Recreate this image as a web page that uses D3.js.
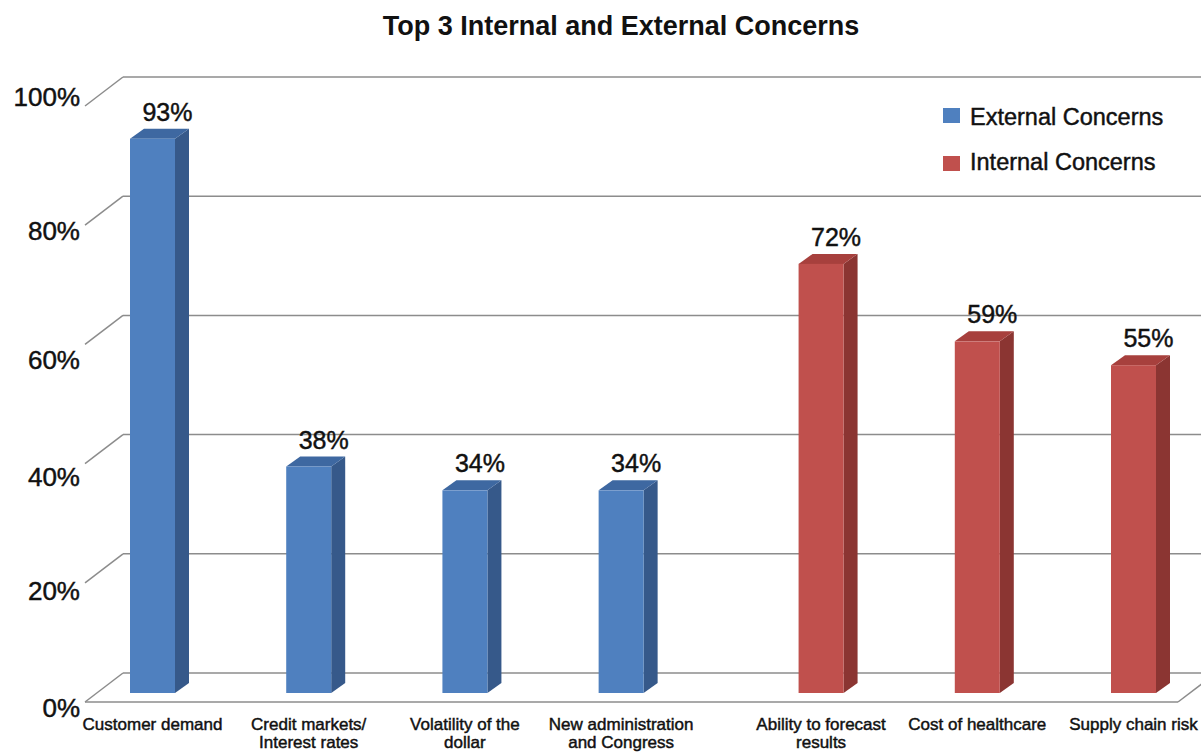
<!DOCTYPE html>
<html>
<head>
<meta charset="utf-8">
<script src="https://cdn.jsdelivr.net/npm/d3@7"></script>
<style>
  html, body { margin: 0; padding: 0; background: #fff; }
  svg text { font-family: "Liberation Sans", Arial, sans-serif; fill: #111; }
  svg text.heavy { stroke: #111; stroke-width: 0.45px; }
</style>
</head>
<body>
<svg id="chart" width="1201" height="753"></svg>
<script>
// ---- data ----
const title = "Top 3 Internal and External Concerns";
const categories = [
  ["Customer demand"],
  ["Credit markets/", "Interest rates"],
  ["Volatility of the", "dollar"],
  ["New administration", "and Congress"],
  ["Ability to forecast", "results"],
  ["Cost of healthcare"],
  ["Supply chain risk"]
];
const values = [93, 38, 34, 34, 72, 59, 55];
const groups = ["External", "External", "External", "External", "Internal", "Internal", "Internal"];
const seriesNames = ["External Concerns", "Internal Concerns"];
const yTicks = [0, 20, 40, 60, 80, 100];

// ---- layout ----
const svg = d3.select("#chart");
const W = 1201, H = 753;
const depth = { dx: -38, dy: 29 };      // back wall -> front floor edge
const barFront = { dx: -26, dy: 20 };   // bar front face offset from back wall
const barSide = { dx: 14, dy: -10 };    // bar depth
const barW = 45;
const groupGap = 0.28;

const colors = {
  External: { front: "#4f80bf", side: "#36598a", top: "#3e68a1" },
  Internal: { front: "#c0504d", side: "#8b3532", top: "#a7403d" }
};

const y = d3.scaleLinear().domain([0, 100]).range([673, 77]);
// tick labels in the original sit slightly off their lines
const yLabel = d3.scaleLinear().domain(yTicks).range([708, 591, 477, 360, 231, 97]);
const slot = (d, i) => i + (groups[i] === "Internal" ? groupGap : 0);
const x = d3.scaleLinear().domain([0, 6 + groupGap]).range([130, 1111]);

const wallLeft = 123, wallRight = 1216;

// title
svg.append("text")
  .attr("x", 621).attr("y", 35)
  .attr("text-anchor", "middle")
  .style("font-size", "27px").style("font-weight", "bold")
  .text(title);

// gridlines
const grid = svg.append("g").attr("stroke", "#8c8c8c").attr("stroke-width", 1.5).attr("fill", "none");
grid.selectAll("line.back").data(yTicks).join("line")
  .attr("x1", wallLeft).attr("x2", W + 20)
  .attr("y1", d => y(d)).attr("y2", d => y(d));
grid.selectAll("line.diag").data(yTicks).join("line")
  .attr("x1", wallLeft + depth.dx).attr("y1", d => y(d) + depth.dy)
  .attr("x2", wallLeft).attr("y2", d => y(d));
// floor front edge and right diagonal
grid.append("line")
  .attr("x1", wallLeft + depth.dx).attr("x2", wallRight + depth.dx)
  .attr("y1", y(0) + depth.dy).attr("y2", y(0) + depth.dy);
grid.append("line")
  .attr("x1", wallRight + depth.dx).attr("y1", y(0) + depth.dy)
  .attr("x2", wallRight).attr("y2", y(0));

// y labels
svg.selectAll("text.ylab").data(yTicks).join("text")
  .attr("class", "ylab heavy")
  .attr("x", 80).attr("y", d => yLabel(d))
  .attr("text-anchor", "end").attr("dominant-baseline", "central")
  .style("font-size", "26px")
  .text(d => d + "%");

// bars
const bars = svg.selectAll("g.bar").data(values).join("g").attr("class", "bar");
bars.each(function(v, i) {
  const g = d3.select(this);
  const c = colors[groups[i]];
  const x0 = x(slot(v, i)), x1 = x0 + barW;
  const yb = y(0) + barFront.dy, yt = y(v) + barFront.dy;
  const sx = barSide.dx, sy = barSide.dy;
  // side
  g.append("path").attr("fill", c.side)
    .attr("d", `M${x1},${yb}L${x1 + sx},${yb + sy}L${x1 + sx},${yt + sy}L${x1},${yt}Z`);
  // top
  g.append("path").attr("fill", c.top)
    .attr("d", `M${x0},${yt}L${x0 + sx},${yt + sy}L${x1 + sx},${yt + sy}L${x1},${yt}Z`);
  // front
  g.append("rect").attr("fill", c.front)
    .attr("x", x0).attr("y", yt).attr("width", barW).attr("height", yb - yt);
  // value label
  g.append("text")
    .attr("class", "heavy")
    .attr("x", (x0 + x1) / 2 + 15).attr("y", yt + sy - 8)
    .attr("text-anchor", "middle")
    .style("font-size", "25px")
    .text(v + "%");
  // category label
  const t = g.append("text")
    .attr("class", "heavy")
    .attr("x", (x0 + x1) / 2).attr("y", 730)
    .attr("text-anchor", "middle")
    .style("font-size", "17px");
  categories[i].forEach((line, k) => {
    t.append("tspan").attr("x", (x0 + x1) / 2).attr("dy", k === 0 ? 0 : 18).text(line);
  });
});

// legend
const legend = svg.append("g");
seriesNames.forEach((name, k) => {
  const key = k === 0 ? "External" : "Internal";
  legend.append("rect")
    .attr("x", 943).attr("y", 108 + k * 48).attr("width", 17).attr("height", 15)
    .attr("fill", colors[key].front);
  legend.append("text")
    .attr("class", "heavy")
    .attr("x", 970).attr("y", 125 + k * 45)
    .style("font-size", "23.5px")
    .text(name);
});
</script>
</body>
</html>
